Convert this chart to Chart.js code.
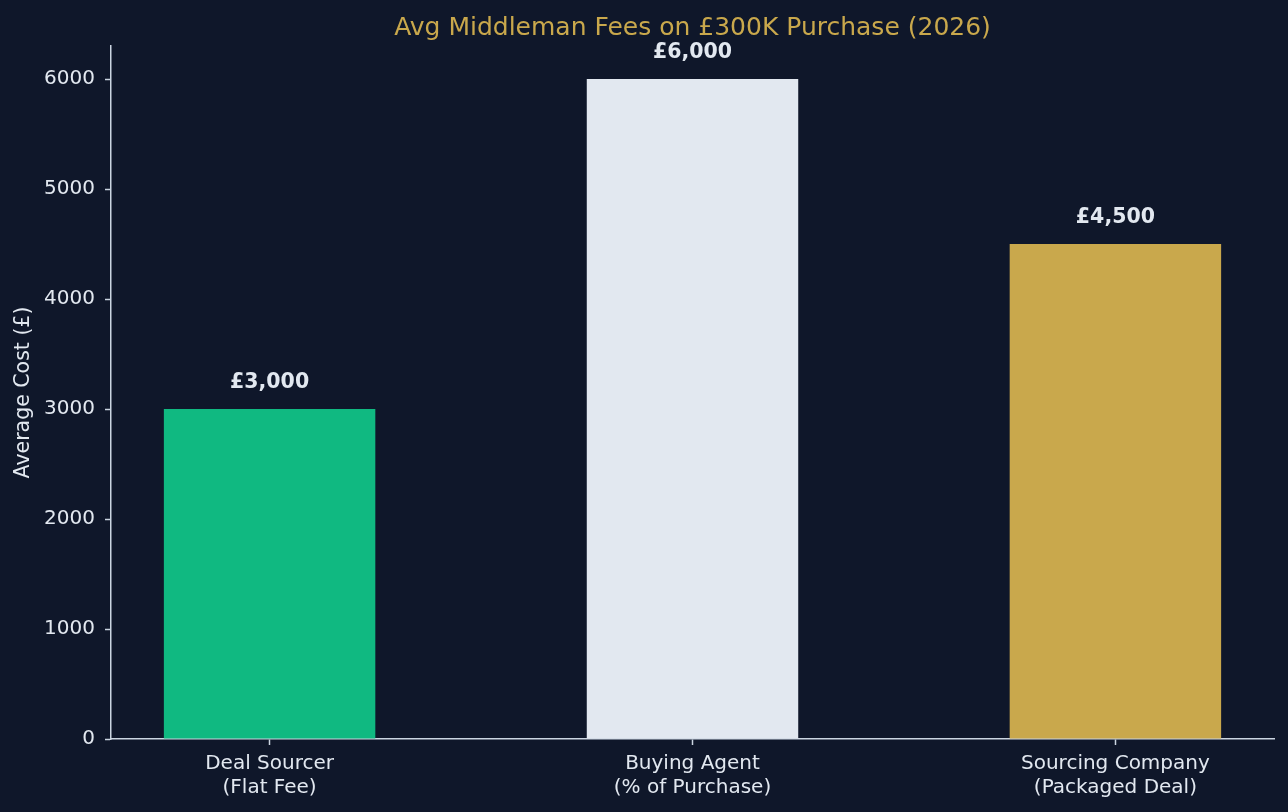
<!DOCTYPE html>
<html>
<head>
<meta charset="utf-8">
<script src="https://cdn.jsdelivr.net/npm/chart.js@4.4.1/dist/chart.umd.min.js"></script>
<style>
  html, body { margin: 0; padding: 0; background: #0f172a; }
  #wrap { width: 1288px; height: 812px; }
</style>
</head>
<body>
<div id="wrap"><canvas id="c" width="1288" height="812"></canvas></div>
<script>
const categories = [["Deal Sourcer", "(Flat Fee)"], ["Buying Agent", "(% of Purchase)"], ["Sourcing Company", "(Packaged Deal)"]];
const values = [3000, 6000, 4500];
const valueLabels = ["£3,000", "£6,000", "£4,500"];
const barColors = ["#10b981", "#e2e8f0", "#c9a84c"];
const yTicks = [0, 1000, 2000, 3000, 4000, 5000, 6000];
const titleText = "Avg Middleman Fees on £300K Purchase (2026)";
const yTitle = "Average Cost (£)";

const FONT = "'DejaVu Sans', sans-serif";
const SPINE = "#cbd5e1";
const TEXT = "#e2e8f0";

const bgPlugin = {
  id: 'bg',
  beforeDraw(chart) {
    const ctx = chart.ctx;
    ctx.save();
    ctx.fillStyle = '#0f172a';
    ctx.fillRect(0, 0, chart.width, chart.height);
    ctx.restore();
  }
};

// centre the title over the plot area (as in the reference)
const titleCenterPlugin = {
  id: 'titleCenter',
  afterLayout(chart) {
    const tb = chart.titleBlock;
    if (tb) {
      tb.left = chart.chartArea.left;
      tb.right = chart.chartArea.right;
      tb.width = tb.right - tb.left;
    }
  }
};

const valueLabelPlugin = {
  id: 'valueLabels',
  afterDatasetsDraw(chart) {
    const ctx = chart.ctx;
    const meta = chart.getDatasetMeta(0);
    ctx.save();
    ctx.font = "bold 20.5px " + FONT;
    ctx.fillStyle = TEXT;
    ctx.textAlign = 'center';
    ctx.textBaseline = 'middle';
    meta.data.forEach((bar, i) => {
      ctx.fillText(valueLabels[i], bar.x, bar.y - 26);
    });
    ctx.restore();
  }
};

const data = {
  datasets: [{
    data: values.map((v, i) => ({ x: i, y: v })),
    backgroundColor: barColors,
    borderWidth: 0,
    barPercentage: 0.5,
    categoryPercentage: 1.0
  }]
};

new Chart(document.getElementById('c'), {
  type: 'bar',
  data: data,
  plugins: [bgPlugin, titleCenterPlugin, valueLabelPlugin],
  options: {
    responsive: false,
    devicePixelRatio: 1,
    animation: false,
    layout: { padding: { left: 0, right: 14, top: 0, bottom: 0 } },
    plugins: {
      legend: { display: false },
      tooltip: { enabled: false },
      title: {
        display: true,
        text: titleText,
        color: '#c9a84c',
        font: { family: FONT, size: 25, weight: 'normal' },
        padding: { top: 13.2, bottom: 2.8 }
      }
    },
    scales: {
      x: {
        type: 'linear',
        min: -0.375,
        max: 2.375,
        offset: false,
        afterBuildTicks(scale) { scale.ticks = [0, 1, 2].map(v => ({ value: v })); },
        afterFit(scale) { scale.height = 73; },
        grid: { display: true, offset: false, drawOnChartArea: false, drawTicks: true, tickLength: 6, tickWidth: 1.5, tickColor: SPINE },
        border: { display: true, color: SPINE, width: 1.5 },
        ticks: {
          color: TEXT,
          font: { family: FONT, size: 20 },
          padding: 7,
          maxRotation: 0,
          autoSkip: false,
          callback: (v) => categories[v]
        }
      },
      y: {
        type: 'linear',
        min: 0,
        max: 6300,
        afterBuildTicks(scale) { scale.ticks = yTicks.map(v => ({ value: v })); },
        afterFit(scale) { scale.width = 111; },
        grid: { display: true, drawOnChartArea: false, drawTicks: true, tickLength: 6, tickWidth: 1.5, tickColor: SPINE },
        border: { display: true, color: SPINE, width: 1.5 },
        ticks: {
          color: TEXT,
          font: { family: FONT, size: 20 },
          padding: 10,
          callback: (v) => String(v)
        },
        title: {
          display: true,
          text: yTitle,
          color: TEXT,
          font: { family: FONT, size: 20.5 },
          padding: { top: 11, bottom: 0 }
        }
      }
    }
  }
});
</script>
</body>
</html>
